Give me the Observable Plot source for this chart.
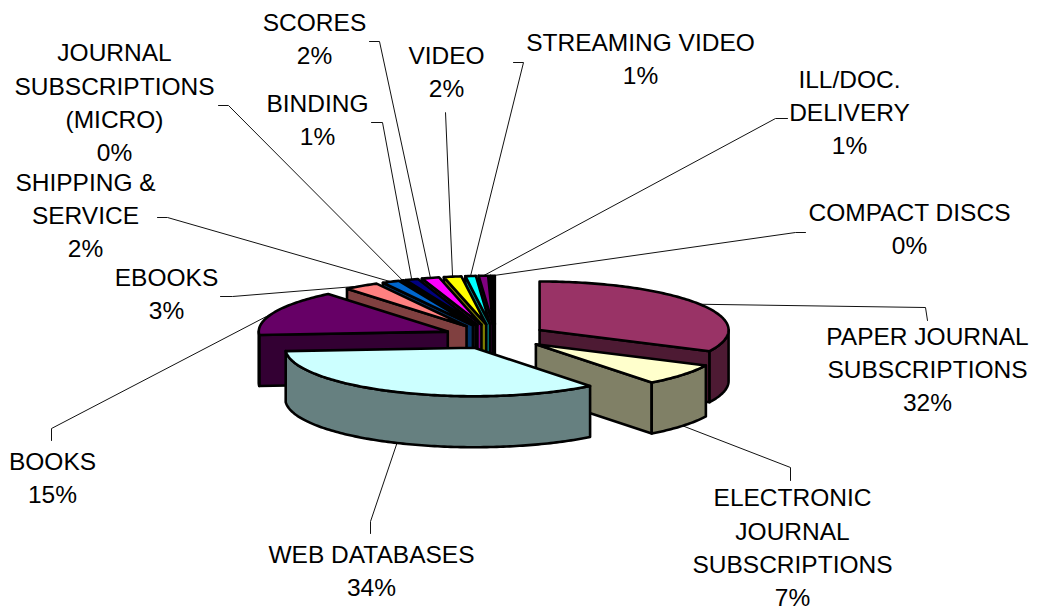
<!DOCTYPE html>
<html>
<head>
<meta charset="utf-8">
<style>
  html, body { margin: 0; padding: 0; background: #fff; }
  svg { display: block; }
</style>
<script src="https://cdn.jsdelivr.net/npm/d3@7"></script>
<script src="https://cdn.jsdelivr.net/npm/@observablehq/plot@0.6"></script>
</head>
<body>
<div id="chart"></div>
<script>
// Library materials budget, clockwise from twelve o'clock. Percent labels are the rounded shares.
const sliceNames = [
  "PAPER JOURNAL\nSUBSCRIPTIONS", "ELECTRONIC\nJOURNAL\nSUBSCRIPTIONS", "WEB DATABASES",
  "BOOKS", "EBOOKS", "SHIPPING &\nSERVICE", "JOURNAL\nSUBSCRIPTIONS\n(MICRO)", "BINDING",
  "SCORES", "VIDEO", "STREAMING VIDEO", "ILL/DOC.\nDELIVERY", "COMPACT DISCS"
];
const sliceValues = [32.2, 7.3, 34.4, 15.2, 3.0, 1.5, 0.2, 1.1, 1.5, 1.5, 0.9, 0.8, 0.4];
const topColors = ["#993366", "#FFFFCC", "#CCFFFF", "#660066", "#FF8080", "#0066CC", "#CCCCFF",
  "#000080", "#FF00FF", "#FFFF00", "#00FFFF", "#800080", "#000000"];
const wallColors = ["#4D1A33", "#808066", "#668080", "#330033", "#804040", "#003366", "#666680",
  "#000040", "#800080", "#808000", "#008080", "#400040", "#000000"];

// Label block centres and the two hand-placed points of each leader line.
const labelCenters = [[927, 367], [792, 545], [371, 568], [52, 475], [166, 291], [85, 213], [114, 100],
  [317, 117], [314, 36], [446, 69], [640, 56], [849, 110], [909, 226]];
const leaderStarts = [[927, 320], [790, 480], [370, 533], [51, 440], [220, 296], [157, 217], [218, 105],
  [371, 122], [369, 41], [445, 112], [513, 62], [787, 118], [805, 232]];
const leaderElbows = [[925, 307], [790, 467], [370, 521], [51, 428], [232, 296], [167, 217], [228, 105],
  [382, 122], [379, 41], [445, 112], [523, 62], [775, 118], [795, 232]];

// Projected pie: ellipse radii, extrusion depth and the radial explosion offset.
const center = {x: 495, y: 336};
const radius = {x: 189, y: 48.5};
const explode = {x: 52, y: 12.3};
const depth = 51;

const rad = (deg) => (deg * Math.PI) / 180;
const total = d3.sum(sliceValues);

let running = 0;
const slices = sliceValues.map((value, i) => {
  const start = (running / total) * 360;
  running += value;
  const end = (running / total) * 360;
  const mid = (start + end) / 2;
  const apex = {
    x: center.x + explode.x * Math.sin(rad(mid)),
    y: center.y - explode.y * Math.cos(rad(mid))
  };
  return {i, value, start, end, mid, apex};
});

const rimPoint = (s, deg, drop = 0) => ({
  x: s.apex.x + radius.x * Math.sin(rad(deg)),
  y: s.apex.y - radius.y * Math.cos(rad(deg)) + drop
});
const arcPoints = (from, to) => {
  const steps = Math.max(1, Math.ceil(to - from));
  return d3.range(steps + 1).map((k) => from + ((to - from) * k) / steps);
};

// Faces are collected back to front so nearer slices paint over farther ones.
const paintOrder = [12, 11, 10, 9, 8, 7, 6, 5, 4, 3, 0, 1, 2];
const faces = [];
let faceId = 0;
const addFace = (points, color) => {
  const id = faceId++;
  [...points, points[0]].forEach((p) => faces.push({id, x: p.x, y: p.y, color}));
};

for (const i of paintOrder) {
  const s = slices[i];
  const wall = wallColors[i];
  const radialWall = (deg) => {
    const o = rimPoint(s, deg);
    const b = rimPoint(s, deg, depth);
    addFace([s.apex, o, b, {x: s.apex.x, y: s.apex.y + depth}], wall);
  };
  if (s.start >= 180) radialWall(s.start);
  if (s.end < 180) radialWall(s.end);
  const from = Math.max(s.start, 90);
  const to = Math.min(s.end, 270);
  if (to > from) {
    const degs = arcPoints(from, to);
    addFace([
      ...degs.map((d) => rimPoint(s, d)),
      ...degs.slice().reverse().map((d) => rimPoint(s, d, depth))
    ], wall);
  }
  addFace([s.apex, ...arcPoints(s.start, s.end).map((d) => rimPoint(s, d))], topColors[i]);
}

// Each leader runs from its label to the outer edge of the slice at its mid angle.
const leaders = slices.flatMap((s) => {
  const front = Math.cos(rad(s.mid)) < 0;
  const tip = rimPoint(s, s.mid, front ? depth : 0);
  return [leaderStarts[s.i], leaderElbows[s.i], [tip.x, tip.y]].map(([x, y]) => ({id: s.i, x, y}));
});

const labels = slices.map((s) => ({
  x: labelCenters[s.i][0],
  y: labelCenters[s.i][1],
  text: `${sliceNames[s.i]}\n${Math.round(s.value)}%`
}));

const chart = Plot.plot({
  width: 1040,
  height: 612,
  margin: 0,
  x: {domain: [0, 1040], range: [0, 1040], axis: null},
  y: {domain: [0, 612], range: [0, 612], axis: null},
  color: {type: "identity"},
  style: {background: "#fff"},
  marks: [
    Plot.line(leaders, {x: "x", y: "y", z: "id", stroke: "#111", strokeWidth: 1}),
    Plot.line(faces, {
      x: "x", y: "y", z: "id", fill: "color",
      stroke: "#000", strokeWidth: 2.6, strokeLinejoin: "round"
    }),
    Plot.text(labels, {
      x: "x", y: "y", text: "text",
      fontFamily: "Liberation Sans, Arial, sans-serif",
      fontSize: 24.5, lineHeight: 1.36, fill: "#000", textAnchor: "middle"
    })
  ]
});
document.getElementById("chart").appendChild(chart);
</script>
</body>
</html>
